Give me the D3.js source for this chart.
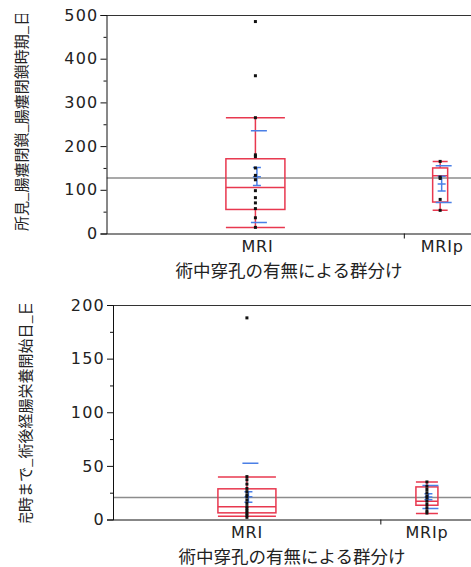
<!DOCTYPE html>
<html>
<head>
<meta charset="utf-8">
<script src="https://cdn.jsdelivr.net/npm/d3@7"></script>
<style>
  body { margin: 0; background: #fff; }
  svg { display: block; }
</style>
</head>
<body>
<div id="chart"></div>
<script>
// ---- data ----
var categories = ["MRI", "MRIp"];
var xTitle = "術中穿孔の有無による群分け";

// top panel
var topLabel = "所見_腸瘻閉鎖_腸瘻閉鎖時期_日数";
var topTicks = [0, 100, 200, 300, 400, 500];
var topMinorTicks = [50, 150, 250, 350, 450];
var topGrandMean = 127;
var topWhiskerLo = [14, 53];
var topQ1 = [55, 72];
var topMedian = [105, 132];
var topQ3 = [171, 150];
var topWhiskerHi = [265, 165];
var topMean = [130, 113];
var topSD = [105, 42];
var topCILo = [110, 97];
var topCIHi = [151, 131];
var topPointsMRI = [485, 361, 265, 180, 176, 150, 133, 123, 98, 82, 70, 57, 36, 14];
var topPointsMRIp = [165, 129, 126, 78, 53];

// bottom panel
var bottomLabel = "完時まで_術後経腸栄養開始日_日数";
var bottomTicks = [0, 50, 100, 150, 200];
var bottomMinorTicks = [25, 75, 125, 175];
var bottomGrandMean = 20.5;
var bottomWhiskerLo = [3, 5.6];
var bottomQ1 = [6.2, 13.3];
var bottomMedian = [11.8, 17];
var bottomQ3 = [28.6, 30.4];
var bottomWhiskerHi = [39.7, 35];
var bottomMean = [21.1, 21];
var bottomSD = [31.3, 10.8];
var bottomCILo = [16.1, 18.5];
var bottomCIHi = [25.8, 24];
var bottomPointsMRI = [188, 40, 37, 33, 29, 26, 23, 21, 18, 15, 12, 10, 8, 6, 4, 2];
var bottomPointsMRIp = [35, 31, 28, 25, 22, 20, 17, 14, 11, 8, 6];

// ---- styles ----
var red = "#e8384f", blue = "#4a7fe6", gray = "#8c8c8c";
var W = 471, H = 567;

var svg = d3.select("#chart").append("svg")
    .attr("width", W)
    .attr("height", H);

function panel(cfg, d) {
    var g = svg.append("g");

    var y = d3.scaleLinear()
        .domain([0, d.ticks[d.ticks.length - 1]])
        .range([cfg.bottom, cfg.top]);
    var x = d3.scaleLinear().domain([0, 1]).range([cfg.left, cfg.right]);
    var centers = [x(cfg.split / 2), x((cfg.split + 1) / 2)];

    // clip for marks
    g.append("clipPath").attr("id", "clip" + cfg.id)
      .append("rect")
        .attr("x", cfg.left).attr("y", cfg.top)
        .attr("width", cfg.right - cfg.left).attr("height", cfg.bottom - cfg.top);
    g.append("clipPath").attr("id", "lclip" + cfg.id)
      .append("rect")
        .attr("x", 0).attr("y", cfg.top - 1)
        .attr("width", 60).attr("height", cfg.bottom - cfg.top + 4);

    var marks = g.append("g").attr("clip-path", "url(#clip" + cfg.id + ")");

    // grand mean line
    marks.append("line")
        .attr("x1", cfg.left).attr("x2", cfg.right)
        .attr("y1", y(d.grandMean)).attr("y2", y(d.grandMean))
        .attr("stroke", gray).attr("stroke-width", 1.3);

    categories.forEach(function(c, i) {
        var cx = centers[i], hw = cfg.boxW[i] / 2;
        var box = marks.append("g")
            .attr("stroke", red).attr("stroke-width", 1.5).attr("fill", "none");
        box.append("rect")
            .attr("x", cx - hw).attr("y", y(d.q3[i]))
            .attr("width", hw * 2).attr("height", y(d.q1[i]) - y(d.q3[i]));
        box.append("line")
            .attr("x1", cx - hw).attr("x2", cx + hw)
            .attr("y1", y(d.median[i])).attr("y2", y(d.median[i]));
        box.append("line")
            .attr("x1", cx).attr("x2", cx)
            .attr("y1", y(d.q3[i])).attr("y2", y(d.whiskerHi[i]));
        box.append("line")
            .attr("x1", cx).attr("x2", cx)
            .attr("y1", y(d.q1[i])).attr("y2", y(d.whiskerLo[i]));
        [d.whiskerHi[i], d.whiskerLo[i]].forEach(function(v) {
            box.append("line")
                .attr("x1", cx - hw).attr("x2", cx + hw)
                .attr("y1", y(v)).attr("y2", y(v));
        });

        // mean, CI, SD
        var b = marks.append("g").attr("stroke", blue).attr("stroke-width", 1.5);
        var bx = cx + 1.5, sx = cx + 3.5;
        b.append("line")
            .attr("x1", bx).attr("x2", bx)
            .attr("y1", y(d.ciHi[i])).attr("y2", y(d.ciLo[i]));
        [d.ciHi[i], d.mean[i], d.ciLo[i]].forEach(function(v) {
            b.append("line")
                .attr("x1", bx - 4).attr("x2", bx + 4)
                .attr("y1", y(v)).attr("y2", y(v));
        });
        [d.mean[i] + d.sd[i], d.mean[i] - d.sd[i]].forEach(function(v) {
            b.append("line")
                .attr("x1", sx - 8).attr("x2", sx + 8)
                .attr("y1", y(v)).attr("y2", y(v));
        });

        // points
        marks.selectAll(null)
            .data(d.points[i])
            .enter()
            .append("rect")
            .attr("x", cx - 1.5)
            .attr("y", function(v) { return y(v) - 1.5; })
            .attr("width", 3).attr("height", 3)
            .attr("fill", "#111");
    });

    // frame top
    g.append("line")
        .attr("x1", cfg.left).attr("x2", W)
        .attr("y1", cfg.top + 0.5).attr("y2", cfg.top + 0.5)
        .attr("stroke", "#333");

    // y axis
    var ya = g.append("g")
        .attr("transform", "translate(" + cfg.left + ",0)")
        .call(d3.axisLeft(y).tickValues(d.ticks).tickSize(6).tickPadding(2).tickFormat(d3.format("d")));
    ya.select(".domain").attr("stroke", "#111");
    ya.selectAll(".tick line").attr("stroke", "#111");
    ya.selectAll("text")
        .attr("font-family", "DejaVu Sans, Verdana, sans-serif")
        .attr("font-size", 16).attr("letter-spacing", 1.2)
        .attr("fill", "#222");
    g.append("g")
        .attr("transform", "translate(" + cfg.left + ",0)")
        .call(d3.axisLeft(y).tickValues(d.minor).tickSize(3).tickFormat(""))
        .call(function(s) { s.select(".domain").remove(); s.selectAll("line").attr("stroke", "#111"); });

    // x axis
    g.append("line")
        .attr("x1", cfg.left).attr("x2", W)
        .attr("y1", cfg.bottom + 0.5).attr("y2", cfg.bottom + 0.5)
        .attr("stroke", "#111");
    g.append("line")
        .attr("x1", x(cfg.split)).attr("x2", x(cfg.split))
        .attr("y1", cfg.bottom).attr("y2", cfg.bottom + 5)
        .attr("stroke", "#111");
    g.selectAll(null)
        .data(categories)
        .enter()
        .append("text")
        .attr("x", function(c, i) { return centers[i] + cfg.labelShift; })
        .attr("y", cfg.bottom + 18)
        .attr("text-anchor", "middle")
        .attr("font-family", "DejaVu Sans, Verdana, sans-serif")
        .attr("font-size", 16).attr("letter-spacing", 0.8)
        .attr("fill", "#222")
        .text(function(c) { return c; });

    g.append("text")
        .attr("x", cfg.titleX)
        .attr("y", cfg.bottom + 43)
        .attr("text-anchor", "middle")
        .attr("font-family", "Noto Sans CJK JP, sans-serif")
        .attr("font-size", 17.5)
        .attr("fill", "#222")
        .text(xTitle);

    // y label, clipped to the frame height
    g.append("g").attr("clip-path", "url(#lclip" + cfg.id + ")")
      .append("text")
        .attr("transform", "translate(" + cfg.labelX + "," + cfg.labelStart + ") rotate(-90)")
        .attr("dy", "0.35em")
        .attr("font-family", "Noto Sans CJK JP, sans-serif")
        .attr("font-size", 15)
        .attr("fill", "#222")
        .text(d.label);
}

panel({ id: 1, top: 15, bottom: 233.5, left: 106.5, right: 476, split: 0.806, boxW: [59, 15],
        labelShift: 2, titleX: 289, labelX: 22, labelStart: 231 },
      { ticks: topTicks, minor: topMinorTicks, grandMean: topGrandMean,
        whiskerLo: topWhiskerLo, q1: topQ1, median: topMedian, q3: topQ3, whiskerHi: topWhiskerHi,
        mean: topMean, sd: topSD, ciLo: topCILo, ciHi: topCIHi,
        points: [topPointsMRI, topPointsMRIp], label: topLabel });

panel({ id: 2, top: 305, bottom: 519.5, left: 113, right: 473, split: 0.744, boxW: [58, 22],
        labelShift: 0, titleX: 292, labelX: 26, labelStart: 527 },
      { ticks: bottomTicks, minor: bottomMinorTicks, grandMean: bottomGrandMean,
        whiskerLo: bottomWhiskerLo, q1: bottomQ1, median: bottomMedian, q3: bottomQ3, whiskerHi: bottomWhiskerHi,
        mean: bottomMean, sd: bottomSD, ciLo: bottomCILo, ciHi: bottomCIHi,
        points: [bottomPointsMRI, bottomPointsMRIp], label: bottomLabel });
</script>
</body>
</html>
